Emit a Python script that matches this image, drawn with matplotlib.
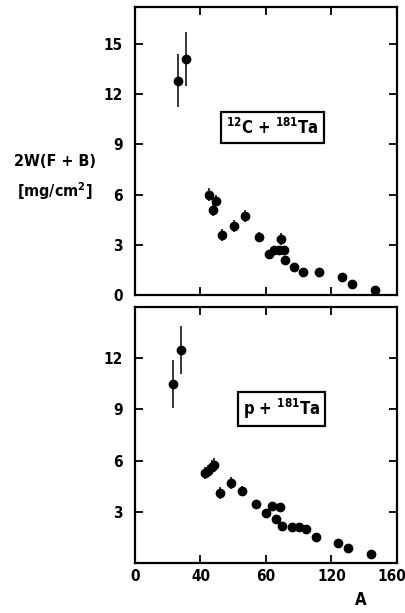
import matplotlib
matplotlib.use("Agg")
import matplotlib.pyplot as plt
from matplotlib.transforms import ScaledTranslation

# ---- data: 12C + 181Ta (top panel) ----
c_A = [26.5, 31.2, 45.5, 47.6, 49.6, 53.1, 60.7, 67.4, 75.8, 81.7, 85.2, 87.8, 89.5, 90.9, 91.9, 97.4, 102.5, 112.7, 126.6, 132.5, 146.6]
c_W = [12.8, 14.1, 6.0, 5.1, 5.64, 3.6, 4.14, 4.7, 3.44, 2.44, 2.7, 2.7, 3.34, 2.7, 2.1, 1.66, 1.4, 1.4, 1.06, 0.64, 0.28]
c_err = [1.6, 1.6, 0.4, 0.4, 0.35, 0.35, 0.35, 0.35, 0.3, 0.0, 0.0, 0.0, 0.35, 0.0, 0.0, 0.0, 0.0, 0.0, 0.0, 0.0, 0.0]

# ---- data: p + 181Ta (bottom panel) ----
p_A = [23.4, 28.1, 42.8, 44.8, 46.9, 48.5, 52.0, 58.7, 65.2, 73.8, 80.1, 83.8, 86.2, 88.9, 89.7, 95.8, 100.5, 104.6, 110.7, 124.3, 130.0, 143.9]
p_W = [10.5, 12.5, 5.26, 5.4, 5.65, 5.75, 4.1, 4.67, 4.23, 3.44, 2.95, 3.33, 2.56, 3.29, 2.17, 2.1, 2.1, 1.97, 1.52, 1.18, 0.87, 0.53]
p_err = [1.4, 1.4, 0.35, 0.35, 0.4, 0.4, 0.35, 0.35, 0.3, 0.25, 0.0, 0.0, 0.0, 0.0, 0.0, 0.0, 0.0, 0.0, 0.0, 0.0, 0.0, 0.0]

x_ticks = [0, 40, 80, 120, 160]
x_ticklabels = ["0", "40", "60", "120", "160"]
top_yticks = [0, 3, 6, 9, 12, 15]
bot_yticks = [3, 6, 9, 12]

plt.rcParams['font.family'] = ['DejaVu Sans']
plt.rcParams['font.stretch'] = 'condensed'
plt.rcParams['font.weight'] = 'bold'
plt.rcParams['mathtext.fontset'] = 'custom'
plt.rcParams['mathtext.rm'] = 'DejaVu Sans:bold'
plt.rcParams['mathtext.bf'] = 'DejaVu Sans:bold'

fig = plt.figure(figsize=(4.06, 6.13), dpi=100)
ax1 = fig.add_axes([0.3325, 0.5188, 0.645, 0.4698])
ax2 = fig.add_axes([0.3325, 0.0816, 0.645, 0.4176])

TS = 11

def style(ax, yticks, ylim, show_xlabels):
    ax.set_xlim(0, 160)
    ax.set_ylim(*ylim)
    ax.set_xticks(x_ticks)
    ax.set_yticks(yticks)
    ax.set_yticklabels([str(t) for t in yticks], fontsize=TS, fontweight='bold',
                       fontstretch='condensed')
    if show_xlabels:
        ax.set_xticklabels(x_ticklabels, fontsize=TS, fontweight='bold',
                           fontstretch='condensed')
    else:
        ax.set_xticklabels([])
    ax.tick_params(direction='in', length=6, width=1.3, top=True, right=True)
    ax.tick_params(axis='y', pad=9)
    ax.tick_params(axis='x', pad=4)
    for s in ax.spines.values():
        s.set_linewidth(1.6)

ax1.errorbar(c_A, c_W, yerr=c_err, fmt='o', color='black', ms=6, elinewidth=1.1, capsize=0)
ax2.errorbar(p_A, p_W, yerr=p_err, fmt='o', color='black', ms=6, elinewidth=1.1, capsize=0)

style(ax1, top_yticks, (0, 17.2), False)
style(ax2, bot_yticks, (0, 15.0), True)

# nudge the last x label so it stays inside the figure
lbls = ax2.get_xticklabels()
lbls[-1].set_transform(lbls[-1].get_transform() + ScaledTranslation(-5 / 100, 0, fig.dpi_scale_trans))

bbox = dict(boxstyle='square,pad=0.3', fc='white', ec='black', lw=1.6)
ax1.text(84, 10.0, r'$^{12}$C + $^{181}$Ta', ha='center', va='center', fontsize=12,
         fontweight='bold', fontstretch='condensed', bbox=bbox)
ax2.text(89.5, 9.0, r'p + $^{181}$Ta', ha='center', va='center', fontsize=12,
         fontweight='bold', fontstretch='condensed', bbox=bbox)

fig.text(0.135, 0.71, '2W(F + B)\n[mg/cm$^2$]', ha='center', va='center', fontsize=11.5,
         fontweight='bold', fontstretch='condensed', linespacing=1.7)
fig.text(0.888, 0.021, 'A', ha='center', va='center', fontsize=12, fontweight='bold')

fig.savefig('out.png', dpi=100)
